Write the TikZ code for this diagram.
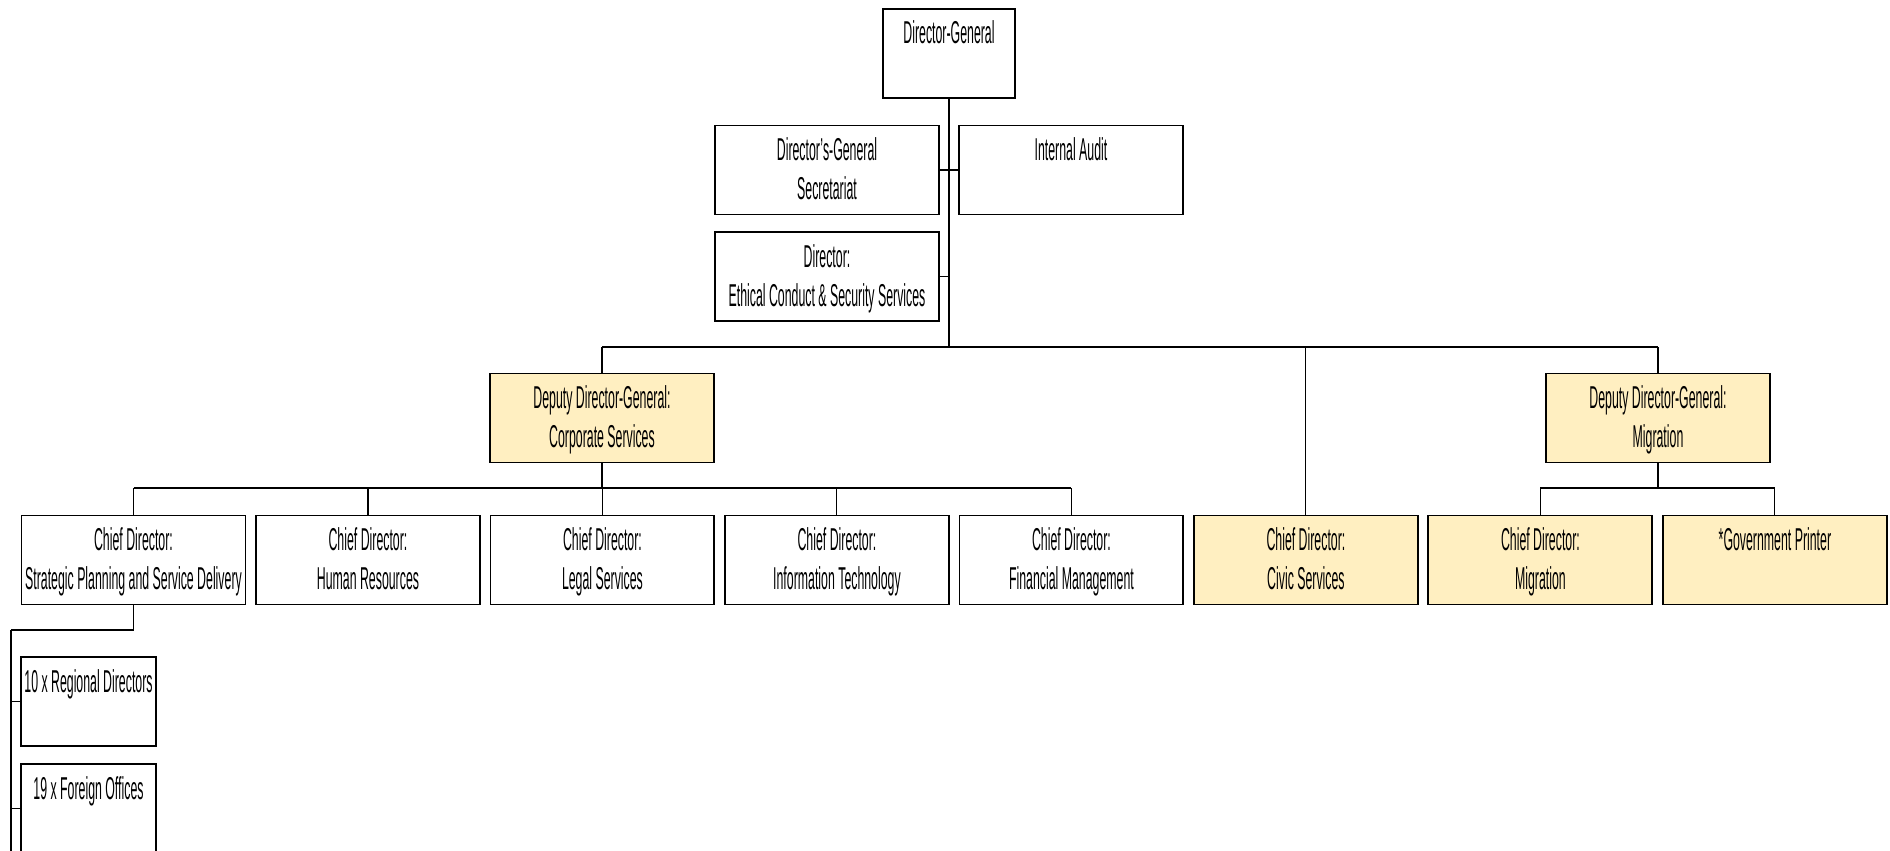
\documentclass[tikz,border=0pt]{standalone}
\usepackage{fontspec}
\setmainfont{Liberation Sans}[FakeStretch=0.39]
\usepackage{tikz}
\usetikzlibrary{positioning}
\definecolor{ddgyellow}{RGB}{255,239,193}
\tikzset{
    unit/.style={draw=black, line width=1.1pt, fill=white, inner sep=0pt,
        minimum width=4.48cm, text height=1.481cm, text depth=0.299cm,
        align=center, font=\fontsize{18}{22.2}\selectfont},
    oneline/.style={text height=0.70cm, text depth=1.08cm},
    deputy/.style={unit, fill=ddgyellow},
    link/.style={draw=black, line width=0.6pt},
    bus/.style={draw=black, line width=1.1pt}
}

\begin{document}
\begin{tikzpicture}[x=0.02cm, y=0.02cm]
\useasboundingbox (0,0) rectangle (1890,-851);

% top of the office
\node[unit, oneline, minimum width=2.64cm] (dg) at (949,-53.5) {Director-General};
\node[unit] (sec) at (827,-170) {Director's-General\\Secretariat};
\node[unit, oneline] (audit) at (1071,-170) {Internal Audit};
\node[unit] (ethics) at (827,-276.5) {Director:\\Ethical Conduct \& Security Services};

\node[deputy] (ddgcorp) at (602,-418) {Deputy Director-General:\\Corporate Services};
\node[deputy] (ddgmig) at (1658,-418) {Deputy Director-General:\\Migration};

% chief directors
\node[unit] (spsd) at (133.5,-560) {Chief Director:\\Strategic Planning and Service Delivery};
\node[unit, right=0.172cm of spsd] (hr) {Chief Director:\\Human Resources};
\node[unit, right=0.172cm of hr] (legal) {Chief Director:\\Legal Services};
\node[unit, right=0.172cm of legal] (it) {Chief Director:\\Information Technology};
\node[unit, right=0.172cm of it] (fin) {Chief Director:\\Financial Management};
\node[deputy, right=0.172cm of fin] (civic) {Chief Director:\\Civic Services};
\node[deputy, right=0.172cm of civic] (cdmig) {Chief Director:\\Migration};
\node[deputy, oneline, right=0.172cm of cdmig] (printer) {*Government Printer};

\node[unit, oneline, minimum width=2.7cm] (regional) at (88.5,-701.5) {10 x Regional Directors};
\node[unit, oneline, minimum width=2.7cm] (foreign) at (88.5,-808.5) {19 x Foreign Offices};

\coordinate (trunk) at (949,-347);
\coordinate (corpbus) at (602,-488);
\coordinate (migbus) at (1658,-488);
\coordinate (subbus) at (11,-630);
\coordinate (subend) at (11,-851);

\draw[style={link}] (dg.south) -- (trunk);
\draw[style={bus}] (sec.east) -- (audit.west);
\draw[style={bus}] (ethics.east) -- (ethics.east -| trunk);
\draw[style={bus}] (ddgcorp.north |- trunk) -- (ddgmig.north |- trunk);
\foreach \n in {ddgcorp,ddgmig,civic}
    \draw[style={link}] (\n.north |- trunk) -- (\n.north);

\draw[style={link}] (ddgcorp.south) -- (corpbus);
\draw[style={bus}] (spsd.north |- corpbus) -- (fin.north |- corpbus);
\foreach \n in {spsd,hr,legal,it,fin}
    \draw[style={link}] (\n.north |- corpbus) -- (\n.north);

\draw[style={link}] (ddgmig.south) -- (migbus);
\draw[style={bus}] (cdmig.north |- migbus) -- (printer.north |- migbus);
\foreach \n in {cdmig,printer}
    \draw[style={link}] (\n.north |- migbus) -- (\n.north);

\draw[style={link}] (spsd.south) -- (spsd.south |- subbus);
\draw[style={bus}] (spsd.south |- subbus) -- (subbus);
\draw[style={link}] (subbus) -- (subend);
\draw[style={bus}] (regional.west) -- (regional.west -| subbus);
\draw[style={bus}] (foreign.west) -- (foreign.west -| subbus);
\end{tikzpicture}
\end{document}
